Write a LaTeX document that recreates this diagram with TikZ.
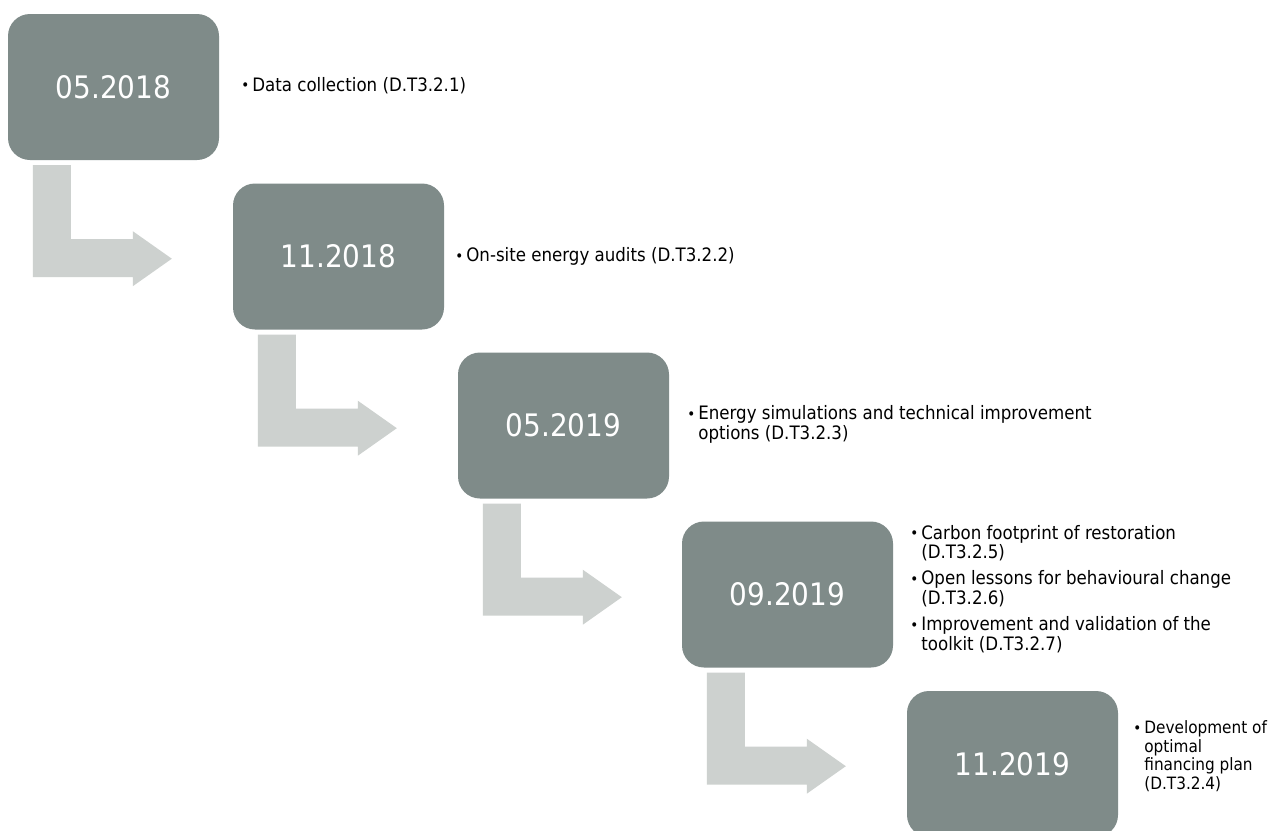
\documentclass[tikz,border=0pt]{standalone}
\usepackage{fontspec}
\setmainfont{DejaVu Sans Condensed}
\usetikzlibrary{calc}
\definecolor{boxgray}{HTML}{7F8B89}
\definecolor{arrowgray}{HTML}{CDD1CF}
\tikzset{
  datebox/.style={fill=boxgray, draw=none, rounded corners=22pt, minimum width=211pt, minimum height=146pt,
    inner sep=0pt, text=white, font=\fontsize{31}{36}\selectfont},
  itemtext/.style={anchor=west, inner sep=0pt, text=black, font=\fontsize{18.5}{18.5}\selectfont},
  smalltext/.style={itemtext, font=\fontsize{17}{18.5}\selectfont},
  bendarrow/.style={fill=arrowgray, draw=none},
}
\newcommand{\bul}{\raisebox{0.5pt}{\fontsize{15}{15}\selectfont\textbullet}}
\newcommand{\itemgap}{\\[6.5pt]}
\begin{document}
\begin{tikzpicture}[x=1pt,y=-1pt]
\clip (0,0) rectangle (1274,830);
\fill[white] (0,0) rectangle (1274,830);
% boxes
\node[datebox] (b1) at (113.5,87) {05.2018};
\node[datebox] (b2) at (338.5,256.5) {11.2018};
\node[datebox] (b3) at (563.5,425.5) {05.2019};
\node[datebox] (b4) at (787.5,594.5) {09.2019};
\node[datebox] (b5) at (1012.5,764) {11.2019};
% bent arrows
\foreach \b in {b1,b2,b3,b4}{
  \fill[bendarrow] ($(\b.south west)+(25,5)$) -- ++(38,0) -- ++(0,74) -- ++(62,0) -- ++(0,-8)
     -- ++(39,27.5) -- ++(-39,27.5) -- ++(0,-9) -- ++(-100,0) -- cycle;
}
% texts
\node[itemtext] (t1) at ($(b1.east)+(22,0)$) {\begin{tabular}{@{}l@{\hspace{3pt}}l@{}}\bul & Data collection (D.T3.2.1)\end{tabular}};
\node[itemtext] (t2) at ($(b2.east)+(11,1)$) {\begin{tabular}{@{}l@{\hspace{3pt}}l@{}}\bul & On-site energy audits (D.T3.2.2)\end{tabular}};
\node[itemtext] (t3) at ($(b3.east)+(18,0)$) {\begin{tabular}{@{}l@{\hspace{3pt}}l@{}}\bul & Energy simulations and technical improvement\\ & options (D.T3.2.3)\end{tabular}};
\node[itemtext] (t4) at ($(b4.east)+(17,-4)$) {\begin{tabular}{@{}l@{\hspace{3pt}}l@{}}\bul & Carbon footprint of restoration\\ & (D.T3.2.5)\itemgap \bul & Open lessons for behavioural change\\ & (D.T3.2.6)\itemgap \bul & Improvement and validation of the\\ & toolkit (D.T3.2.7)\end{tabular}};
\node[smalltext] (t5) at ($(b5.east)+(15,-6)$) {\begin{tabular}{@{}l@{\hspace{3pt}}l@{}}\bul & Development of\\ & optimal\\ & financing plan\\ & (D.T3.2.4)\end{tabular}};
\end{tikzpicture}
\end{document}
